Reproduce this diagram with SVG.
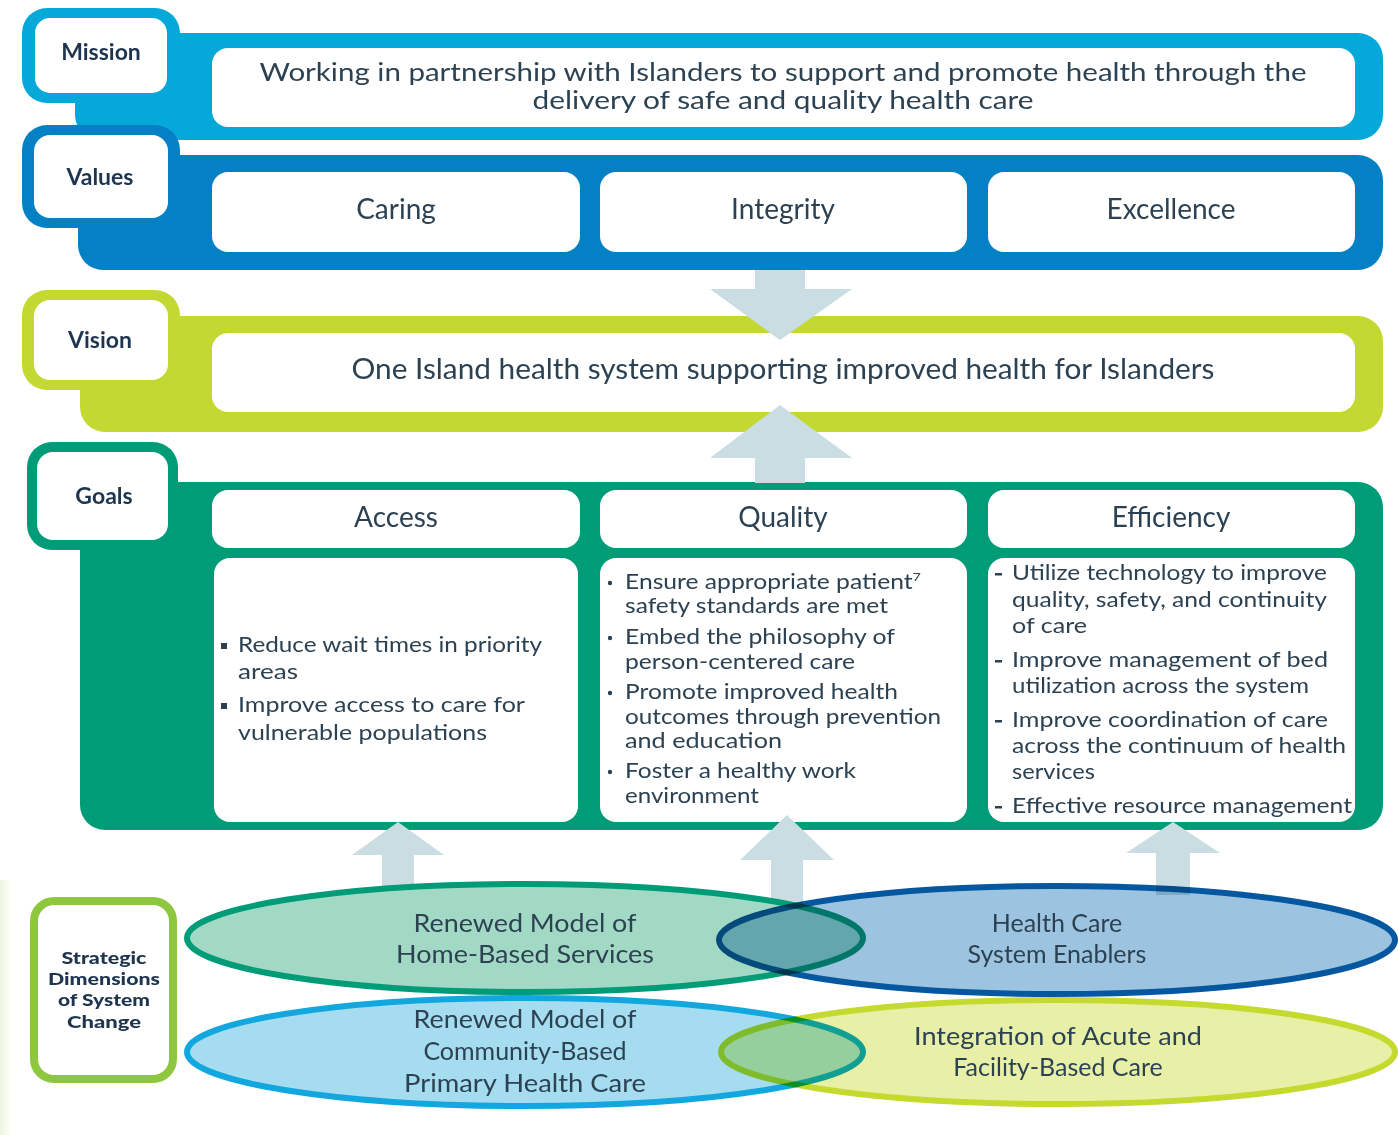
<svg xmlns="http://www.w3.org/2000/svg" width="1398" height="1135" viewBox="0 0 1398 1135">
<defs>
<style>
.t{font-family:Lato,"Open Sans","Liberation Sans",sans-serif;fill:#2c4252;}
.lbl{font-family:Lato,"Liberation Sans",sans-serif;font-weight:bold;fill:#1e3550;font-size:23px;text-anchor:middle;}
.big{font-size:28px;text-anchor:middle;}
.mis{font-size:25px;text-anchor:middle;}
.b{font-size:20.5px;}
.el{font-size:25px;text-anchor:middle;}
.w{fill:#ffffff;}
.arr{fill:#c9dde3;}
</style>
<linearGradient id="edge" x1="0" y1="0" x2="1" y2="0">
<stop offset="0" stop-color="#eef5e2"/>
<stop offset="1" stop-color="#ffffff"/>
</linearGradient>
</defs>
<rect width="1398" height="1135" fill="#ffffff"/>
<rect x="0" y="880" width="12" height="255" fill="url(#edge)"/>

<g id="mission">
<rect x="75" y="33" width="1308" height="107" rx="25" fill="#04a9da"/>
<rect x="22" y="8" width="158" height="95" rx="25" fill="#04a9da"/>
<rect x="35" y="18" width="132" height="75" rx="15" class="w"/>
<text x="101" y="60" class="lbl">Mission</text>
<rect x="212" y="48" width="1143" height="79" rx="16" class="w"/>
<text class="t mis" x="783" y="81" textLength="1047" lengthAdjust="spacingAndGlyphs">Working in partnership with Islanders to support and promote health through the</text>
<text class="t mis" x="783" y="109" textLength="501" lengthAdjust="spacingAndGlyphs">delivery of safe and quality health care</text>
</g>

<g id="values">
<rect x="78" y="155" width="1305" height="115" rx="25" fill="#0480c5"/>
<rect x="22" y="125" width="158" height="103" rx="25" fill="#0480c5"/>
<rect x="34" y="135" width="134" height="83" rx="16" class="w"/>
<text x="100" y="185" class="lbl">Values</text>
<rect x="212" y="172" width="368" height="80" rx="16" class="w"/>
<rect x="600" y="172" width="367" height="80" rx="16" class="w"/>
<rect x="988" y="172" width="367" height="80" rx="16" class="w"/>
<text class="t big" x="396" y="219">Caring</text>
<text class="t big" x="783" y="219">Integrity</text>
<text class="t big" x="1171" y="219">Excellence</text>
</g>

<g id="vision">
<rect x="80" y="316" width="1303" height="116" rx="25" fill="#c3d931"/>
<rect x="22" y="290" width="158" height="100" rx="25" fill="#c3d931"/>
<rect x="34" y="300" width="134" height="80" rx="16" class="w"/>
<text x="100" y="348" class="lbl">Vision</text>
<rect x="212" y="333" width="1143" height="79" rx="16" class="w"/>
<text class="t big" x="783" y="379" textLength="863" lengthAdjust="spacingAndGlyphs">One Island health system supporting improved health for Islanders</text>
</g>

<g id="goals">
<rect x="80" y="482" width="1303" height="348" rx="25" fill="#009c77"/>
<rect x="27" y="442" width="151" height="108" rx="25" fill="#009c77"/>
<rect x="37" y="452" width="131" height="88" rx="16" class="w"/>
<text x="104" y="504" class="lbl">Goals</text>
<rect x="212" y="490" width="368" height="58" rx="16" class="w"/>
<rect x="600" y="490" width="367" height="58" rx="16" class="w"/>
<rect x="988" y="490" width="367" height="58" rx="16" class="w"/>
<text class="t big" x="396" y="527">Access</text>
<text class="t big" x="783" y="527">Quality</text>
<text class="t big" x="1171" y="527">Efficiency</text>
<rect x="214" y="558" width="364" height="264" rx="16" class="w"/>
<rect x="600" y="558" width="367" height="264" rx="16" class="w"/>
<rect x="988" y="558" width="367" height="264" rx="16" class="w"/>

<g class="t b">
<rect x="221" y="643" width="6" height="6" fill="#2c4252"/>
<rect x="221" y="703" width="6" height="6" fill="#2c4252"/>
<text x="238" y="652" textLength="304" lengthAdjust="spacingAndGlyphs">Reduce wait times in priority</text>
<text x="238" y="679" textLength="60" lengthAdjust="spacingAndGlyphs">areas</text>
<text x="238" y="712" textLength="287" lengthAdjust="spacingAndGlyphs">Improve access to care for</text>
<text x="238" y="740" textLength="249" lengthAdjust="spacingAndGlyphs">vulnerable populations</text>

<circle cx="610" cy="583" r="2.2" fill="#2c4252"/>
<circle cx="610" cy="638" r="2.2" fill="#2c4252"/>
<circle cx="610" cy="693" r="2.2" fill="#2c4252"/>
<circle cx="610" cy="772" r="2.2" fill="#2c4252"/>
<text x="625" y="589" textLength="296" lengthAdjust="spacingAndGlyphs">Ensure appropriate patient<tspan dy="-8" font-size="12">7</tspan></text>
<text x="625" y="613" textLength="263" lengthAdjust="spacingAndGlyphs">safety standards are met</text>
<text x="625" y="644" textLength="270" lengthAdjust="spacingAndGlyphs">Embed the philosophy of</text>
<text x="625" y="669" textLength="230" lengthAdjust="spacingAndGlyphs">person-centered care</text>
<text x="625" y="699" textLength="273" lengthAdjust="spacingAndGlyphs">Promote improved health</text>
<text x="625" y="724" textLength="316" lengthAdjust="spacingAndGlyphs">outcomes through prevention</text>
<text x="625" y="748" textLength="157" lengthAdjust="spacingAndGlyphs">and education</text>
<text x="625" y="778" textLength="231" lengthAdjust="spacingAndGlyphs">Foster a healthy work</text>
<text x="625" y="803" textLength="134" lengthAdjust="spacingAndGlyphs">environment</text>

<rect x="995" y="573" width="7" height="2.5" fill="#2c4252"/>
<rect x="995" y="660" width="7" height="2.5" fill="#2c4252"/>
<rect x="995" y="720" width="7" height="2.5" fill="#2c4252"/>
<rect x="995" y="806" width="7" height="2.5" fill="#2c4252"/>
<text x="1012" y="580" textLength="315" lengthAdjust="spacingAndGlyphs">Utilize technology to improve</text>
<text x="1012" y="607" textLength="315" lengthAdjust="spacingAndGlyphs">quality, safety, and continuity</text>
<text x="1012" y="633" textLength="75" lengthAdjust="spacingAndGlyphs">of care</text>
<text x="1012" y="667" textLength="316" lengthAdjust="spacingAndGlyphs">Improve management of bed</text>
<text x="1012" y="693" textLength="297" lengthAdjust="spacingAndGlyphs">utilization across the system</text>
<text x="1012" y="727" textLength="316" lengthAdjust="spacingAndGlyphs">Improve coordination of care</text>
<text x="1012" y="753" textLength="334" lengthAdjust="spacingAndGlyphs">across the continuum of health</text>
<text x="1012" y="779" textLength="83" lengthAdjust="spacingAndGlyphs">services</text>
<text x="1012" y="813" textLength="340" lengthAdjust="spacingAndGlyphs">Effective resource management</text>
</g>
</g>

<g id="connectors">
<polygon class="arr" points="755,270 805,270 805,289 852,289 780,340 710,289 755,289"/>
<polygon class="arr" points="780,405 852,458 805,458 805,483 755,483 755,458 710,458"/>
<polygon class="arr" points="398,822 444,855 414,855 414,895 382,895 382,855 352,855"/>
<polygon class="arr" points="787,815 834,860 803,860 803,905 771,905 771,860 740,860"/>
<polygon class="arr" points="1173,822 1220,853 1190,853 1190,895 1156,895 1156,853 1126,853"/>
</g>

<g id="strategic-dimensions">
<rect x="34" y="901" width="139" height="178" rx="20" fill="#ffffff" stroke="#8dc63f" stroke-width="8"/>
<g class="lbl" style="font-size:17px;font-weight:900">
<text x="104" y="964" textLength="85" lengthAdjust="spacingAndGlyphs">Strategic</text>
<text x="104" y="985" textLength="112" lengthAdjust="spacingAndGlyphs">Dimensions</text>
<text x="104" y="1006" textLength="92" lengthAdjust="spacingAndGlyphs">of System</text>
<text x="104" y="1028" textLength="74" lengthAdjust="spacingAndGlyphs">Change</text>
</g>
</g>

<g id="home-based">
<ellipse cx="525" cy="938" rx="338" ry="54" fill="#a2d9c5" stroke="#009c77" stroke-width="6"/>
</g>
<g id="system-enablers">
<ellipse cx="1057" cy="940" rx="338" ry="54" fill="#9cc3e0" stroke="#05589f" stroke-width="6" style="mix-blend-mode:multiply"/>
<text class="t el" x="1057" y="932">Health Care</text>
<text class="t el" x="1057" y="963">System Enablers</text>
</g>
<g id="home-based-text">
<text class="t el" x="525" y="932" textLength="223" lengthAdjust="spacingAndGlyphs">Renewed Model of</text>
<text class="t el" x="525" y="963" textLength="258" lengthAdjust="spacingAndGlyphs">Home-Based Services</text>
</g>

<g id="community-based">
<ellipse cx="525" cy="1052" rx="338" ry="54" fill="#a5dcf0" stroke="#12a8df" stroke-width="6"/>
<text class="t el" x="525" y="1028" textLength="223" lengthAdjust="spacingAndGlyphs">Renewed Model of</text>
<text class="t el" x="525" y="1060">Community-Based</text>
<text class="t el" x="525" y="1092" textLength="242" lengthAdjust="spacingAndGlyphs">Primary Health Care</text>
</g>
<g id="integration">
<ellipse cx="1058" cy="1052" rx="337" ry="52" fill="#e8f0a8" stroke="#c5da2e" stroke-width="6" style="mix-blend-mode:multiply"/>
<text class="t el" x="1058" y="1045" textLength="288" lengthAdjust="spacingAndGlyphs">Integration of Acute and</text>
<text class="t el" x="1058" y="1076">Facility-Based Care</text>
</g>
</svg>
